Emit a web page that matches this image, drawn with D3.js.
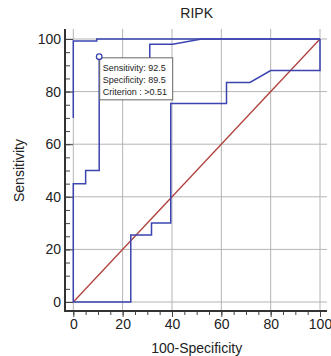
<!DOCTYPE html>
<html>
<head>
<meta charset="utf-8">
<script src="https://cdn.jsdelivr.net/npm/d3@7"></script>
<style>
  body { margin: 0; background: #fff; }
  svg { display: block; font-family: "Liberation Sans", Arial, sans-serif; }
</style>
</head>
<body>
<div id="chart"></div>
<script>
// ROC curve (100-specificity vs sensitivity)
const rocX = [0, 0, 5, 5, 10.5, 10.5, 31, 31, 40.3, 52, 100];
const rocY = [0, 45, 45, 50, 50, 92.5, 92.5, 98, 98, 100, 100];
// upper confidence bound
const upperX = [0, 0, 9.5, 9.5, 100];
const upperY = [70, 99.2, 99.2, 100, 100];
// lower confidence bound
const lowerX = [0, 23.3, 23.3, 31.7, 31.7, 39.5, 39.5, 62.1, 62.1, 71.6, 80, 100, 100];
const lowerY = [0, 0, 25.5, 25.5, 30, 30, 75.5, 75.5, 83.5, 83.5, 88, 88, 100];
// reference line
const diagX = [0, 100];
const diagY = [0, 100];
// optimal criterion
const bestPoint = {x: 10.5, y: 92.5};
const bestLabels = ["Sensitivity: 92.5", "Specificity: 89.5", "Criterion : >0.51"];
const tickValues = [0, 20, 40, 60, 80, 100];
const minorTicks = d3.range(0, 101, 5);

const WIDTH = 331, HEIGHT = 356;
const BLUE = "#3c44b0";
const GRID = "#b4b4b4";

const svg = d3.select("#chart").append("svg")
    .attr("width", WIDTH)
    .attr("height", HEIGHT);

const x = d3.scaleLinear().domain([0, 100]).range([73.3, 320]);
const y = d3.scaleLinear().domain([0, 100]).range([302, 39]);

const axisX = 65;     // left axis line position
const axisY = 311;    // bottom axis line position
const gridTop = 29;
const gridRight = 327;

// gridlines
svg.append("g").selectAll("line")
    .data(tickValues)
    .enter().append("line")
    .attr("x1", d => x(d)).attr("x2", d => x(d))
    .attr("y1", gridTop).attr("y2", axisY)
    .attr("stroke", GRID).attr("stroke-width", 1);

svg.append("g").selectAll("line")
    .data(tickValues)
    .enter().append("line")
    .attr("x1", axisX).attr("x2", gridRight)
    .attr("y1", d => y(d)).attr("y2", d => y(d))
    .attr("stroke", GRID).attr("stroke-width", 1);

// x axis: minor + major ticks
const xMinor = svg.append("g")
    .attr("transform", "translate(0," + axisY + ")")
    .call(d3.axisBottom(x).tickValues(minorTicks).tickSize(4).tickFormat(""));
xMinor.select(".domain").remove();

const xMajor = svg.append("g")
    .attr("transform", "translate(0," + axisY + ")")
    .call(d3.axisBottom(x).tickValues(tickValues).tickSize(6).tickPadding(2));
xMajor.select(".domain").remove();

// y axis: ticks pointing into the plot
const yMinor = svg.append("g")
    .attr("transform", "translate(" + axisX + ",0)")
    .call(d3.axisLeft(y).tickValues(minorTicks).tickSize(-5).tickFormat(""));
yMinor.select(".domain").remove();

const yMajor = svg.append("g")
    .attr("transform", "translate(" + axisX + ",0)")
    .call(d3.axisLeft(y).tickValues(tickValues).tickSizeInner(-8).tickSizeOuter(0).tickPadding(4));
yMajor.select(".domain").remove();

svg.selectAll(".tick line").attr("stroke", "#444");
svg.selectAll(".tick text")
    .attr("font-size", 14)
    .attr("font-family", "Liberation Sans, Arial, sans-serif")
    .attr("fill", "#222");

// axis lines
svg.append("line")
    .attr("x1", axisX).attr("x2", axisX)
    .attr("y1", gridTop).attr("y2", axisY + 1)
    .attr("stroke", "#333").attr("stroke-width", 2);
svg.append("line")
    .attr("x1", axisX - 1).attr("x2", gridRight)
    .attr("y1", axisY).attr("y2", axisY)
    .attr("stroke", "#333").attr("stroke-width", 2);

// curves
const line = d3.line()
    .x(d => x(d[0]))
    .y(d => y(d[1]));

svg.append("path")
    .datum(d3.zip(diagX, diagY))
    .attr("fill", "none")
    .attr("stroke", "#b0403c")
    .attr("stroke-width", 1.3)
    .attr("d", line);

[[upperX, upperY], [lowerX, lowerY], [rocX, rocY]].forEach(([xs, ys]) => {
    svg.append("path")
        .datum(d3.zip(xs, ys))
        .attr("fill", "none")
        .attr("stroke", BLUE)
        .attr("stroke-width", 1.5)
        .attr("d", line);
});

// criterion box (drawn over the curve, as in the original)
const bx = x(bestPoint.x) + 0.5;
const by = y(bestPoint.y) - 0.9;
svg.append("rect")
    .attr("x", bx).attr("y", by)
    .attr("width", 73).attr("height", 42)
    .attr("fill", "#fff")
    .attr("stroke", "#666")
    .attr("stroke-width", 1);

svg.append("g").selectAll("text")
    .data(bestLabels)
    .enter().append("text")
    .attr("x", bx + 3)
    .attr("y", (d, i) => by + 13 + i * 12.2)
    .attr("font-size", 9)
    .attr("fill", "#222")
    .text(d => d);

svg.append("circle")
    .attr("cx", x(bestPoint.x))
    .attr("cy", y(bestPoint.y) - 2)
    .attr("r", 2.8)
    .attr("fill", "#fff")
    .attr("stroke", BLUE)
    .attr("stroke-width", 1.3);

// titles
svg.append("text")
    .attr("x", (x(0) + x(100)) / 2)
    .attr("y", 18)
    .attr("text-anchor", "middle")
    .attr("font-size", 14)
    .attr("fill", "#222")
    .text("RIPK");

svg.append("text")
    .attr("x", (x(0) + x(100)) / 2)
    .attr("y", 353)
    .attr("text-anchor", "middle")
    .attr("font-size", 14)
    .attr("fill", "#222")
    .text("100-Specificity");

svg.append("text")
    .attr("transform", "translate(23.5," + (y(50)) + ") rotate(-90)")
    .attr("text-anchor", "middle")
    .attr("font-size", 14)
    .attr("fill", "#222")
    .text("Sensitivity");
</script>
</body>
</html>
